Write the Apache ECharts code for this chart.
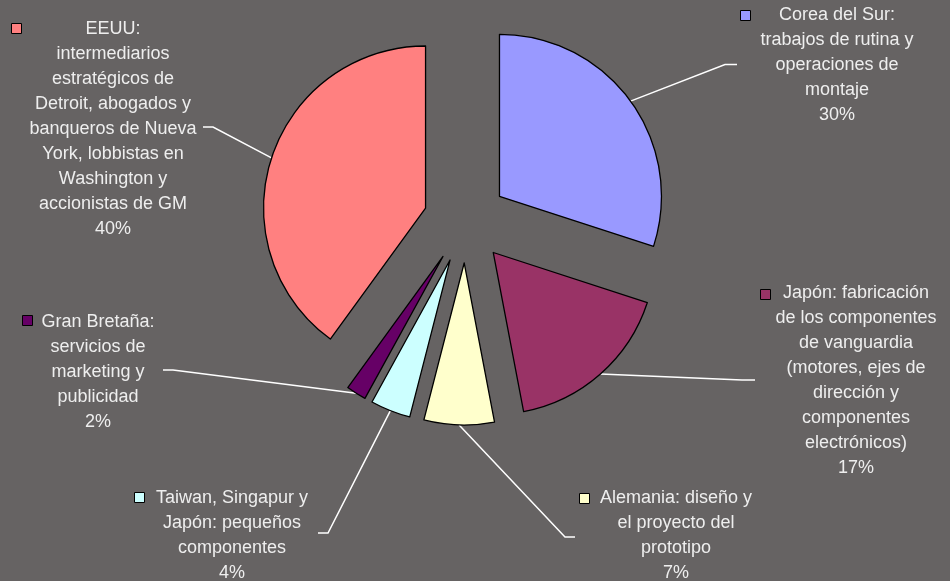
<!DOCTYPE html>
<html>
<head>
<meta charset="utf-8">
<script src="https://cdn.jsdelivr.net/npm/echarts@6/dist/echarts.min.js"></script>
<style>
html,body{margin:0;padding:0;background:#666363;}
#chart{width:950px;height:581px;}
</style>
</head>
<body>
<div id="chart"></div>
<script>
// ---- data ----
const categories = [
  "Corea del Sur:\ntrabajos de rutina y\noperaciones de\nmontaje",
  "Japón: fabricación\nde los componentes\nde vanguardia\n(motores, ejes de\ndirección y\ncomponentes\nelectrónicos)",
  "Alemania: diseño y\nel proyecto del\nprototipo",
  "Taiwan, Singapur y\nJapón: pequeños\ncomponentes",
  "Gran Bretaña:\nservicios de\nmarketing y\npublicidad",
  "EEUU:\nintermediarios\nestratégicos de\nDetroit, abogados y\nbanqueros de Nueva\nYork, lobbistas en\nWashington y\naccionistas de GM"
];
const shares = [30, 17, 7, 4, 2, 40];

// ---- styles / layout ----
const colors = ["#9999FF", "#993366", "#FFFFCC", "#CCFFFF", "#660066", "#FF8080"];
const pieCenter = [465.5, 221];
const pieRadius = 162;
const explode = 42;
const labelLayoutCfg = [
  {x: 837, y: 65,  elbow: [725, 64.5], end: [737, 64.5]},
  {x: 856, y: 381, elbow: [742, 380],  end: [755, 380]},
  {x: 676, y: 536, elbow: [565, 537],  end: [575, 537]},
  {x: 232, y: 536, elbow: [328, 533],  end: [318, 533]},
  {x: 98,  y: 372, elbow: [173, 370],  end: [163, 370]},
  {x: 113, y: 129, elbow: [213, 127],  end: [203, 127]}
];
const legendPos = [
  {left: 740, top: 10}, {left: 760, top: 289}, {left: 579, top: 493},
  {left: 134, top: 492}, {left: 22, top: 315}, {left: 11, top: 23}
];

const chart = echarts.init(document.getElementById('chart'), null, {renderer: 'canvas'});

const total = shares.reduce((a, b) => a + b, 0);
let cum = 0;
const midAngles = shares.map(v => { const m = (cum + v / 2) / total * 2 * Math.PI; cum += v; return m; });

const legends = categories.map((n, i) => ({
  data: [{name: n, itemStyle: {color: colors[i], borderColor: '#000', borderWidth: 1}}],
  left: legendPos[i].left,
  top: legendPos[i].top,
  padding: 0,
  icon: 'rect',
  itemWidth: 10,
  itemHeight: 10,
  selectedMode: false,
  formatter: () => '',
  textStyle: {fontSize: 6, lineHeight: 6}
}));

const series = categories.map((name, k) => ({
  type: 'pie',
  name: 'slice' + k,
  center: [pieCenter[0] + explode * Math.sin(midAngles[k]), pieCenter[1] - explode * Math.cos(midAngles[k])],
  radius: [0, pieRadius],
  startAngle: 90,
  clockwise: true,
  avoidLabelOverlap: false,
  selectedMode: false,
  emphasis: {disabled: true},
  label: {
    show: true,
    position: 'outside',
    formatter: p => p.name + '\n' + p.value + '%',
    color: '#EEEEEE',
    fontFamily: 'Liberation Sans, Arial, sans-serif',
    fontSize: 18,
    lineHeight: 25,
    align: 'center'
  },
  labelLine: {
    show: true,
    length: 20,
    length2: 10,
    lineStyle: {color: '#FFFFFF', width: 1.5}
  },
  labelLayout: function (p) {
    const c = labelLayoutCfg[p.dataIndex];
    const pts = p.labelLinePoints;
    const start = pts ? pts[0] : c.elbow;
    return {
      x: c.x, y: c.y, align: 'center', verticalAlign: 'middle',
      labelLinePoints: [start, c.elbow, c.end]
    };
  },
  data: categories.map((n, i) => i === k ? {
    name: n, value: shares[i],
    itemStyle: {color: colors[i], borderColor: '#000', borderWidth: 1.3}
  } : {
    name: n, value: shares[i],
    itemStyle: {color: 'rgba(0,0,0,0)', borderWidth: 0},
    label: {show: false},
    labelLine: {show: false}
  })
}));

chart.setOption({
  backgroundColor: '#666363',
  animation: false,
  legend: legends,
  series: series
});
</script>
</body>
</html>
